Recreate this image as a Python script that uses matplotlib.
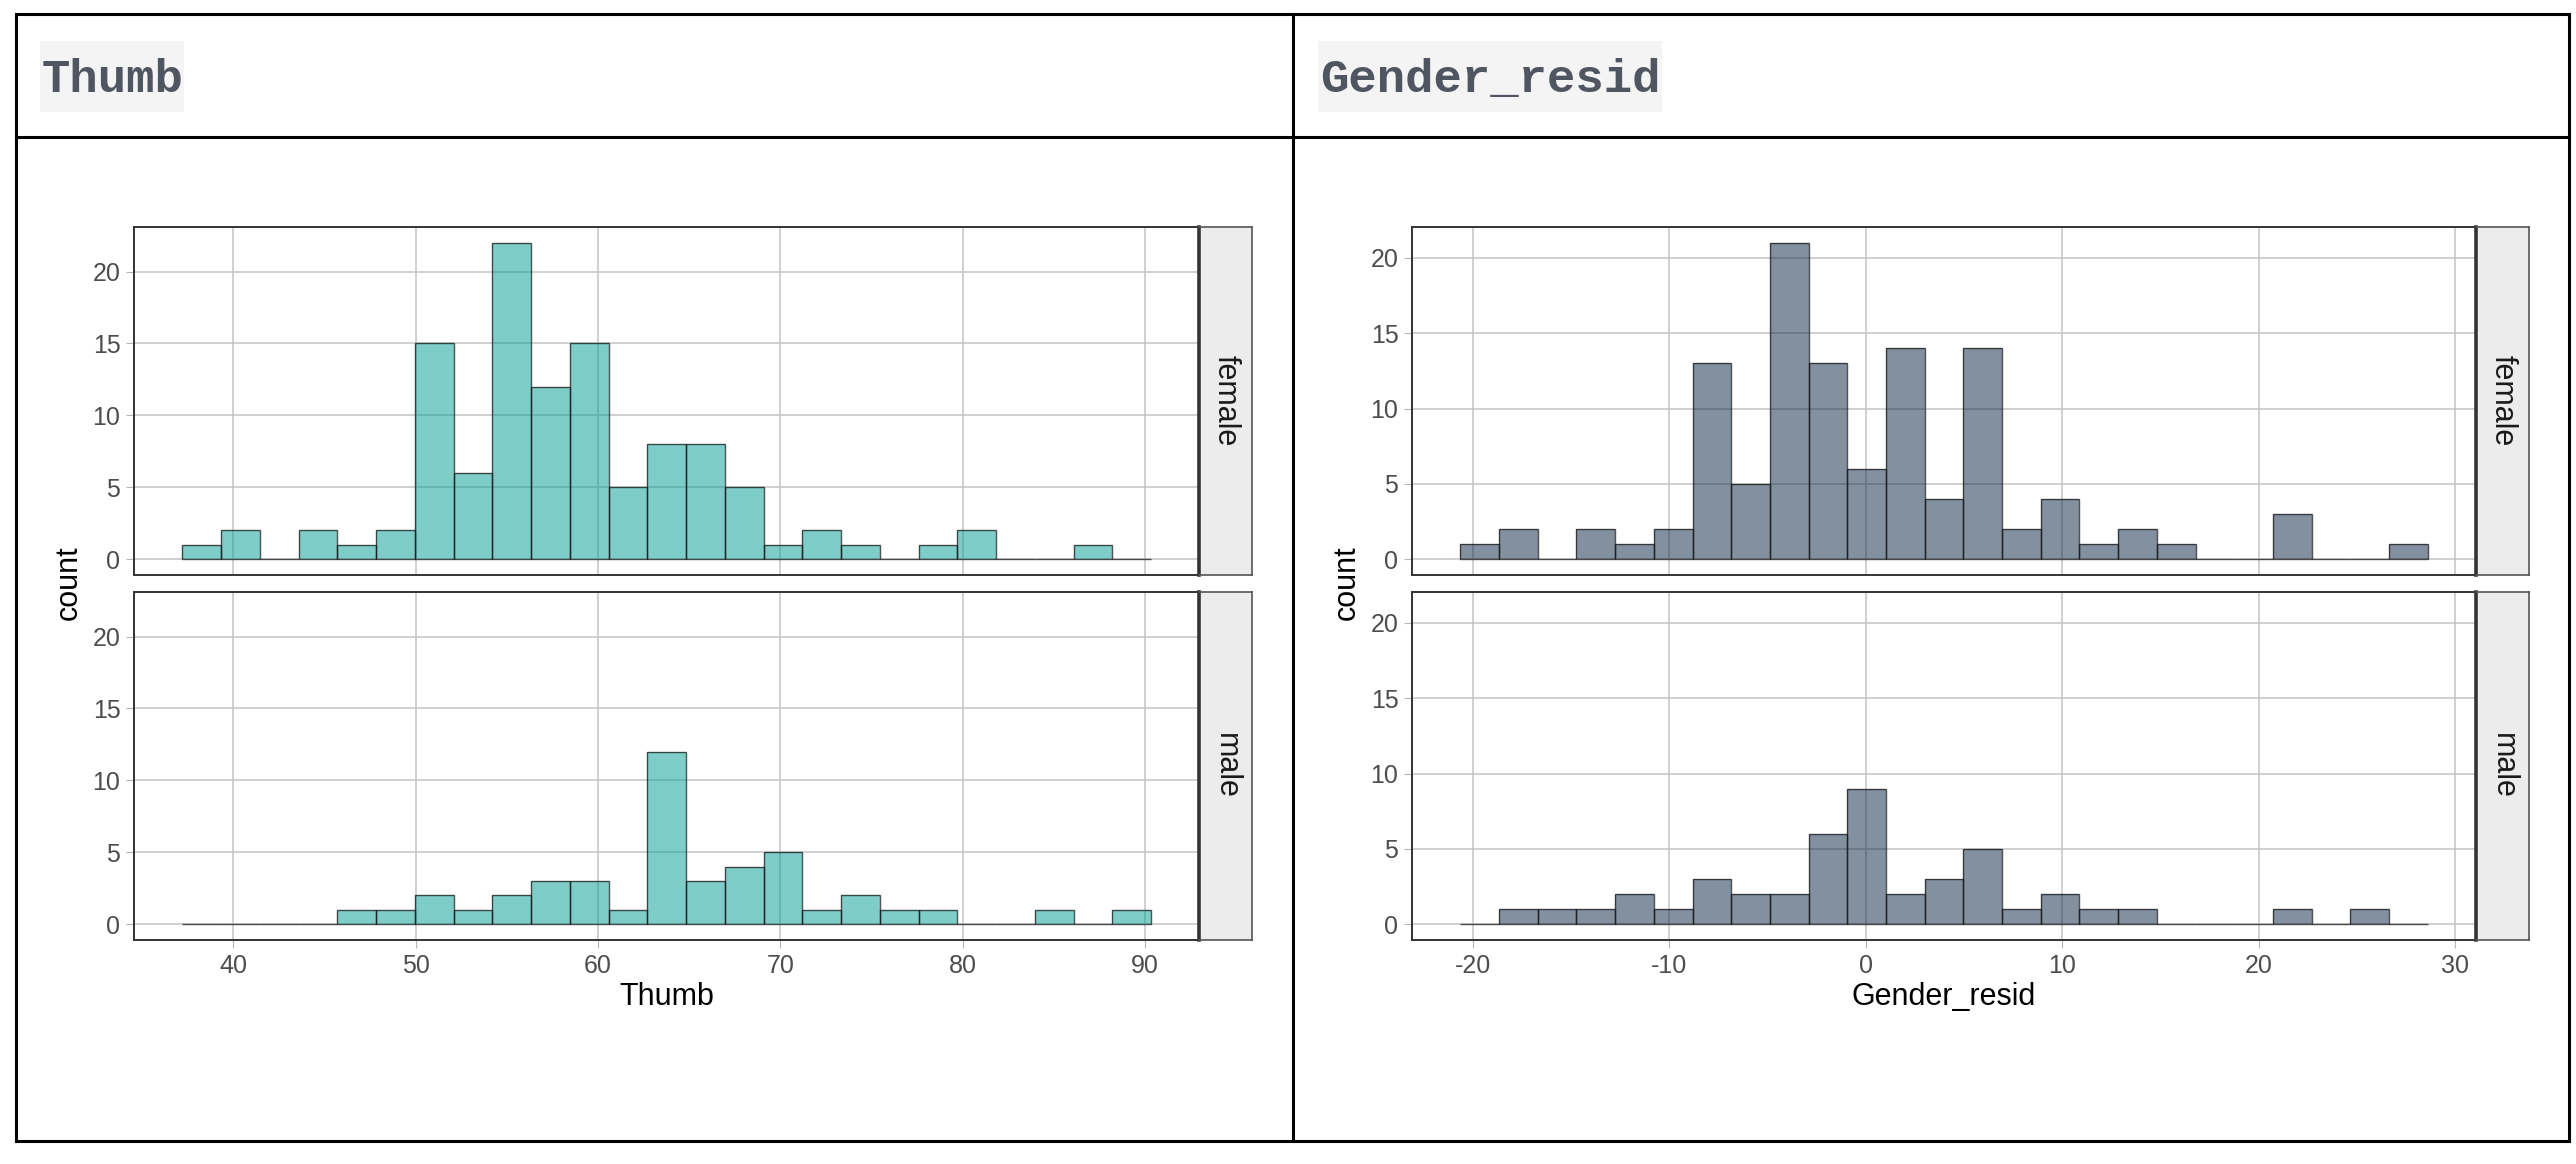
import matplotlib
matplotlib.use("Agg")
import matplotlib.pyplot as plt
from matplotlib.patches import Rectangle
from matplotlib.lines import Line2D
import numpy as np

plt.rcParams["axes.unicode_minus"] = False

# histogram counts (25 bins each)
thumb_female = [1, 2, 0, 2, 1, 2, 15, 6, 22, 12, 15, 5, 8, 8, 5, 1, 2, 1, 0, 1, 2, 0, 0, 1, 0]
thumb_male = [0, 0, 0, 0, 1, 1, 2, 1, 2, 3, 3, 1, 12, 3, 4, 5, 1, 2, 1, 1, 0, 0, 1, 0, 1]
resid_female = [1, 2, 0, 2, 1, 2, 13, 5, 21, 13, 6, 14, 4, 14, 2, 4, 1, 2, 1, 0, 0, 3, 0, 0, 1]
resid_male = [0, 1, 1, 1, 2, 1, 3, 2, 2, 6, 9, 2, 3, 5, 1, 2, 1, 1, 0, 0, 0, 1, 0, 1, 0]

thumb_bins = (37.2, 2.125)      # first edge, bin width
resid_bins = (-20.62, 1.969)

thumb_ticks = [40, 50, 60, 70, 80, 90]
resid_ticks = [-20, -10, 0, 10, 20, 30]
count_ticks = [0, 5, 10, 15, 20]
facets = ["female", "male"]

W, H = 2576, 1164
fig = plt.figure(figsize=(W / 100, H / 100), dpi=100)
fig.patch.set_facecolor("white")


def box(x0, y0, x1, y1):
    # pixel box (y from top) -> figure fraction rect
    return [x0 / W, 1 - y1 / H, (x1 - x0) / W, (y1 - y0) / H]


def fx(x):
    return x / W


def fy(y):
    return 1 - y / H


def draw_hist(ax, counts, bins, color, xlim, ylim, xticks, show_x):
    start, width = bins
    lefts = start + width * np.arange(len(counts))
    ax.bar(lefts, counts, width=width, align="edge", color=color, alpha=0.5,
           edgecolor="none", zorder=2)
    ax.bar(lefts, counts, width=width, align="edge", facecolor="none",
           edgecolor=(0.1, 0.1, 0.1, 0.75), linewidth=1.0, zorder=3)
    ax.set_xlim(*xlim)
    ax.set_ylim(*ylim)
    ax.set_xticks(xticks)
    ax.set_yticks(count_ticks)
    ax.set_axisbelow(True)
    ax.grid(True, color="#c4c4c4", linewidth=1.1)
    for s in ax.spines.values():
        s.set_color("#333333")
        s.set_linewidth(1.4)
    ax.tick_params(axis="both", length=5.8, width=0.8, color="#b5b5b5",
                   labelsize=18, labelcolor="#4d4d4d")
    ax.tick_params(axis="x", pad=4)
    ax.tick_params(axis="y", pad=4)
    if not show_x:
        ax.tick_params(axis="x", length=0, labelbottom=False)
    for lab in ax.get_xticklabels() + ax.get_yticklabels():
        lab.set_fontfamily("Liberation Sans")


def draw_strip(x0, x1, y0, y1, label):
    sax = fig.add_axes(box(x0, y0, x1, y1))
    sax.set_facecolor("#ececec")
    sax.set_xticks([])
    sax.set_yticks([])
    for s in sax.spines.values():
        s.set_color("#555555")
        s.set_linewidth(1.2)
    sax.spines["left"].set_color("#333333")
    sax.spines["left"].set_linewidth(2.6)
    sax.text(0.5, 0.5, label, rotation=-90, ha="center", va="center",
             fontsize=22, family="Liberation Sans", color="#1a1a1a",
             transform=sax.transAxes)


panels = [
    dict(x0=134, x1=1199, data=[thumb_female, thumb_male], bins=thumb_bins,
         color="#019d95", xlim=(34.55, 92.95), ylim=(-1.1, 23.1),
         ticks=thumb_ticks, xlabel="Thumb", count_x=69),
    dict(x0=1412, x1=2476, data=[resid_female, resid_male], bins=resid_bins,
         color="#072341", xlim=(-23.08, 31.06), ylim=(-1.05, 22.05),
         ticks=resid_ticks, xlabel="Gender_resid", count_x=1347),
]
rows = [(227, 575), (592, 940)]

for p in panels:
    for i, (y0, y1) in enumerate(rows):
        ax = fig.add_axes(box(p["x0"], y0, p["x1"], y1))
        draw_hist(ax, p["data"][i], p["bins"], p["color"], p["xlim"], p["ylim"],
                  p["ticks"], show_x=(i == 1))
        draw_strip(p["x1"], p["x1"] + 53, y0, y1, facets[i])
    fig.text(fx((p["x0"] + p["x1"]) / 2), fy(997), p["xlabel"], ha="center",
             va="center", fontsize=22, family="Liberation Sans", color="black")
    fig.text(fx(p["count_x"]), fy(583), "count", rotation=90, ha="center",
             va="center", fontsize=22, family="Liberation Sans", color="black")

# header titles in shaded code boxes
for x0, x1, title in [(40, 184, "Thumb"), (1318, 1662, "Gender_resid")]:
    fig.patches.append(Rectangle((fx(x0), fy(112)), (x1 - x0) / W, 71 / H,
                                 transform=fig.transFigure, facecolor="#f4f4f4",
                                 edgecolor="none", zorder=0))
    fig.text(fx(x0 + 2), fy(92), title, ha="left", va="baseline", fontsize=34,
             family="Liberation Mono", fontweight="bold", color="#505661")

# outer table frame
lw = 2.2
frame = [
    ([16, 2569], [14, 14]), ([16, 2569], [1141, 1141]),
    ([16, 16], [14, 1141]), ([2569, 2569], [14, 1141]),
    ([16, 2569], [137, 137]), ([1293, 1293], [14, 1141]),
]
for xs, ys in frame:
    fig.lines.append(Line2D([fx(x) for x in xs], [fy(y) for y in ys],
                            transform=fig.transFigure, color="black", linewidth=lw))

fig.savefig("out.png", dpi=100)
